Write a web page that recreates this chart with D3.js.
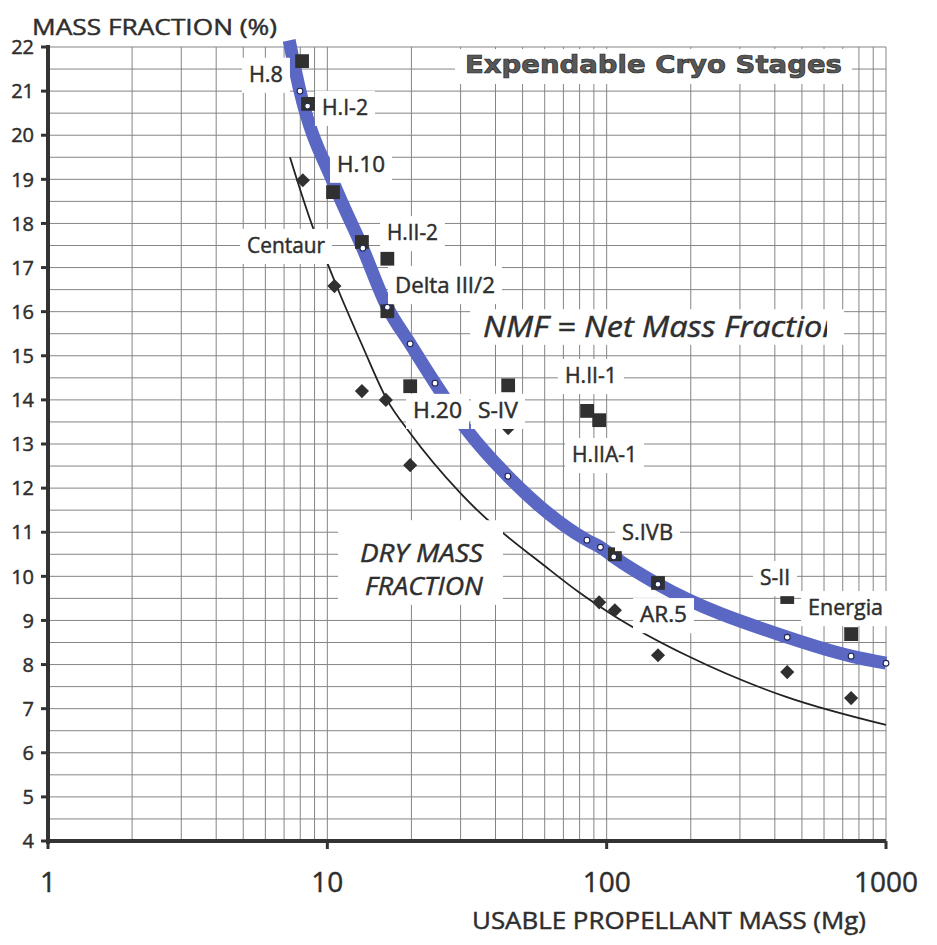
<!DOCTYPE html>
<html>
<head>
<meta charset="utf-8">
<script src="https://cdn.jsdelivr.net/npm/d3@7"></script>
<style>
  html, body { margin: 0; padding: 0; background: #fff; }
  svg { display: block; }
</style>
</head>
<body>
<svg id="chart" width="937" height="945"></svg>
<script>
// ---------------- DATA ----------------
const xTickLabels = [1, 10, 100, 1000];
const yTickLabels = [4,5,6,7,8,9,10,11,12,13,14,15,16,17,18,19,20,21,22];

// Net mass fraction data points (squares)
const squareMass = [8.12, 8.53, 10.48, 13.3, 16.4, 16.4, 19.8, 44.4, 85.1, 94.0, 107, 152.7, 443, 750];
const squareNMF  = [21.68, 20.71, 18.71, 17.58, 17.2, 16.01, 14.31, 14.33, 13.75, 13.54, 10.5, 9.85, 9.53, 8.69];

// Dry mass fraction data points (diamonds)
const diamondMass = [8.17, 10.6, 13.3, 16.2, 19.8, 44.4, 94, 107, 152.7, 443, 750];
const diamondDry  = [18.98, 16.58, 14.2, 14.0, 12.52, 13.36, 9.41, 9.23, 8.21, 7.83, 7.24];

// NMF trend curve (thick blue)
const nmfCurveMass = [7.3, 7.98, 10.6, 13.3, 16.4, 19.8, 24.3, 31.6, 44.3, 85, 95, 106, 152.6, 443, 750, 1000];
const nmfCurveVal  = [22.15, 21.0, 18.87, 17.48, 16.1, 15.27, 14.38, 13.32, 12.27, 10.82, 10.66, 10.44, 9.82, 8.62, 8.19, 8.03];

// NMF curve marker points (small open circles)
const nmfDotMass = [7.98, 8.5, 13.4, 16.4, 19.8, 24.3, 44.3, 85, 95, 106, 152.6, 443, 750, 1000];
const nmfDotVal  = [21.0, 20.66, 17.44, 16.1, 15.27, 14.38, 12.27, 10.82, 10.66, 10.44, 9.82, 8.62, 8.19, 8.03];

// Dry mass fraction trend curve (thin black)
const dryCurveMass = [7.35, 8.89, 10.06, 10.83, 13.3, 16.36, 19.77, 29.9, 62.7, 80.3, 105.4, 198.8, 442, 1000];
const dryCurveVal  = [19.5, 17.9, 17.06, 16.56, 15.25, 14.0, 13.25, 11.89, 10.14, 9.62, 9.12, 8.17, 7.26, 6.63];

// Stage labels: text, anchor mass (left edge), anchor value (baseline)
const stageLabels = [
  {t: "H.8",         m: 5.24,  v: 21.21, w: 34},
  {t: "H.I-2",       m: 9.57,  v: 20.46, w: 46},
  {t: "H.10",        m: 10.83, v: 19.17, w: 48},
  {t: "Centaur",     m: 5.16,  v: 17.33, w: 78},
  {t: "H.II-2",      m: 16.35, v: 17.62, w: 51},
  {t: "Delta III/2", m: 17.47, v: 16.42, w: 100, padTop: 12},
  {t: "H.II-1",      m: 70.9,  v: 14.38, w: 52},
  {t: "H.20",        m: 20.26, v: 13.59, w: 49},
  {t: "S-IV",        m: 34.6,  v: 13.59, w: 40},
  {t: "H.IIA-1",     m: 75.2,  v: 12.59, w: 65},
  {t: "S.IVB",       m: 113.5, v: 10.82, w: 51},
  {t: "AR.5",        m: 131.6, v: 8.96,  w: 47},
  {t: "S-II",        m: 354,   v: 9.80,  w: 30},
  {t: "Energia",     m: 525.9, v: 9.12,  w: 75}
];

// ---------------- SETUP ----------------
const svg = d3.select("#chart");
const W = 937, H = 945;
const x = d3.scaleLog().domain([1, 1000]).range([48, 886]);
const y = d3.scaleLinear().domain([4, 22]).range([841, 47]);

const ink = "#2e2e2e";
const gridCol = "#858585";
const blue = "#5a68c4";
const FONT = "'Open Sans', 'DejaVu Sans', sans-serif";
const THICK = 0.45;   // slight stroke to give a medium weight

svg.append("rect").attr("width", W).attr("height", H).attr("fill", "#fff");

// ---------------- GRID ----------------
const grid = svg.append("g");
grid.selectAll("line.v").data(x.ticks()).join("line")
  .attr("x1", d => x(d)).attr("x2", d => x(d))
  .attr("y1", y(22)).attr("y2", y(4))
  .attr("stroke", gridCol).attr("stroke-width", 1);
grid.selectAll("line.h").data(y.ticks(36)).join("line")
  .attr("x1", x(1)).attr("x2", x(1000))
  .attr("y1", d => y(d)).attr("y2", d => y(d))
  .attr("stroke", gridCol).attr("stroke-width", 1);

// ---------------- CURVES ----------------
const line = d3.line()
  .x(d => x(d[0])).y(d => y(d[1]))
  .curve(d3.curveMonotoneX);

const dryPts = dryCurveMass.map((m, i) => [m, dryCurveVal[i]]);
svg.append("path").datum(dryPts)
  .attr("d", line).attr("fill", "none")
  .attr("stroke", "#222").attr("stroke-width", 1.8);

const nmfPts = nmfCurveMass.map((m, i) => [m, nmfCurveVal[i]]);
svg.append("path").datum(nmfPts)
  .attr("d", line).attr("fill", "none")
  .attr("stroke", blue).attr("stroke-width", 13)
  .attr("stroke-linecap", "butt");

// ---------------- MARKERS ----------------
const sq = d3.symbol().type(d3.symbolSquare).size(190);
svg.append("g").selectAll("path").data(squareMass.map((m, i) => [m, squareNMF[i]])).join("path")
  .attr("d", sq)
  .attr("transform", d => `translate(${x(d[0])},${y(d[1])})`)
  .attr("fill", "#303030");

const dm = d3.symbol().type(d3.symbolSquare).size(100);
svg.append("g").selectAll("path").data(diamondMass.map((m, i) => [m, diamondDry[i]])).join("path")
  .attr("d", dm)
  .attr("transform", d => `translate(${x(d[0])},${y(d[1])}) rotate(45)`)
  .attr("fill", "#303030");

const dot = d3.symbol().type(d3.symbolCircle).size(26);
svg.append("g").selectAll("path").data(nmfDotMass.map((m, i) => [m, nmfDotVal[i]])).join("path")
  .attr("d", dot)
  .attr("transform", d => `translate(${x(d[0])},${y(d[1])})`)
  .attr("fill", "#fff").attr("stroke", "#1e2550").attr("stroke-width", 1.1);

// ---------------- AXES ----------------
const axisG = svg.append("g");
axisG.append("line")
  .attr("x1", x(1)).attr("x2", x(1))
  .attr("y1", y(22) - 2).attr("y2", y(4) + 3)
  .attr("stroke", "#333").attr("stroke-width", 4);
axisG.append("line")
  .attr("x1", x(1) - 2).attr("x2", x(1000))
  .attr("y1", y(4)).attr("y2", y(4))
  .attr("stroke", "#333").attr("stroke-width", 4);

axisG.selectAll("line.yt").data(yTickLabels).join("line")
  .attr("x1", x(1) - 7).attr("x2", x(1))
  .attr("y1", d => y(d)).attr("y2", d => y(d))
  .attr("stroke", "#333").attr("stroke-width", 3);
axisG.selectAll("text.yl").data(yTickLabels).join("text")
  .attr("x", x(1) - 14).attr("y", d => y(d))
  .attr("dy", "0.36em")
  .attr("text-anchor", "end")
  .attr("font-family", FONT).attr("font-size", 20)
  .attr("fill", ink).attr("stroke", ink).attr("stroke-width", THICK)
  .text(d => d);

axisG.selectAll("line.xt").data(xTickLabels).join("line")
  .attr("x1", d => x(d)).attr("x2", d => x(d))
  .attr("y1", y(4)).attr("y2", y(4) + 8)
  .attr("stroke", "#333").attr("stroke-width", 3);
axisG.selectAll("text.xl").data(xTickLabels).join("text")
  .attr("x", d => x(d)).attr("y", 892)
  .attr("text-anchor", "middle")
  .attr("font-family", FONT).attr("font-size", 28)
  .attr("fill", ink).attr("stroke", ink).attr("stroke-width", THICK)
  .text(d => d);

svg.append("text")
  .attr("x", 32).attr("y", 35)
  .attr("font-family", FONT).attr("font-size", 22)
  .attr("textLength", 245).attr("lengthAdjust", "spacingAndGlyphs")
  .attr("fill", ink).attr("stroke", ink).attr("stroke-width", THICK)
  .text("MASS FRACTION (%)");
svg.append("text")
  .attr("x", 472).attr("y", 929)
  .attr("font-family", FONT).attr("font-size", 24)
  .attr("textLength", 394).attr("lengthAdjust", "spacingAndGlyphs")
  .attr("fill", ink).attr("stroke", ink).attr("stroke-width", THICK)
  .text("USABLE PROPELLANT MASS (Mg)");

// ---------------- LABELS ----------------
const labG = svg.append("g");
function boxedLabel(txt, px, py, opts) {
  const fs = opts.fs || 21;
  const g = labG.append("g");
  const r = g.append("rect").attr("fill", "#fff");
  const t = g.append("text")
    .attr("x", px).attr("y", py)
    .attr("font-family", opts.font || FONT)
    .attr("font-size", fs)
    .attr("font-style", opts.italic ? "italic" : "normal")
    .attr("font-weight", opts.weight || "normal")
    .attr("fill", opts.fill || ink)
    .attr("stroke", opts.stroke || ink)
    .attr("stroke-width", opts.strokeW != null ? opts.strokeW : THICK)
    .text(txt);
  if (opts.w) t.attr("textLength", opts.w).attr("lengthAdjust", "spacingAndGlyphs");
  const padX = opts.padX != null ? opts.padX : 7;
  const top = py - fs * 0.72 - (opts.padTop != null ? opts.padTop : 9);
  const bottom = py + (opts.padBottom != null ? opts.padBottom : 11);
  const w = opts.boxW || (opts.w || t.node().getComputedTextLength());
  r.attr("x", px - padX).attr("y", top)
   .attr("width", w + 2 * padX).attr("height", bottom - top);
  return {g, t, r};
}

stageLabels.forEach(l => {
  boxedLabel(l.t, x(l.m), y(l.v), {w: l.w, padTop: l.padTop});
});

// NMF annotation (text clipped at the right edge of its box)
const nmfX = x(36.1), nmfY = y(15.43);
const defs = svg.append("defs");
defs.append("clipPath").attr("id", "nmfclip")
  .append("rect").attr("x", nmfX - 14).attr("y", nmfY - 40)
  .attr("width", 344 + 14).attr("height", 60);
const nmf = boxedLabel("NMF = Net Mass Fraction", nmfX, nmfY,
  {fs: 30, italic: true, w: 358, padX: 13, padTop: 6, padBottom: 8, boxW: 348});
nmf.t.attr("clip-path", "url(#nmfclip)");

// DRY MASS FRACTION annotation (two lines in one box)
const dmX = x(13.09), dmY1 = y(10.32), dmY2 = y(9.58);
const dg = labG.append("g");
dg.append("rect").attr("fill", "#fff")
  .attr("x", dmX - 22).attr("y", dmY1 - 42)
  .attr("width", 165).attr("height", dmY2 - dmY1 + 52);
dg.append("text").attr("x", dmX).attr("y", dmY1)
  .attr("font-family", FONT).attr("font-size", 25).attr("font-style", "italic")
  .attr("textLength", 123).attr("lengthAdjust", "spacingAndGlyphs")
  .attr("fill", ink).attr("stroke", ink).attr("stroke-width", THICK).text("DRY MASS");
dg.append("text").attr("x", x(13.64)).attr("y", dmY2)
  .attr("font-family", FONT).attr("font-size", 25).attr("font-style", "italic")
  .attr("textLength", 118).attr("lengthAdjust", "spacingAndGlyphs")
  .attr("fill", ink).attr("stroke", ink).attr("stroke-width", THICK).text("FRACTION");

// Title
boxedLabel("Expendable Cryo Stages", x(31.1), y(21.41),
  {fs: 25, weight: "bold", w: 377, font: "'DejaVu Sans', Verdana, sans-serif",
   fill: "#585858", stroke: "#2a2a2a", strokeW: 0.7, padX: 10, padTop: 6, padBottom: 11});
</script>
</body>
</html>
